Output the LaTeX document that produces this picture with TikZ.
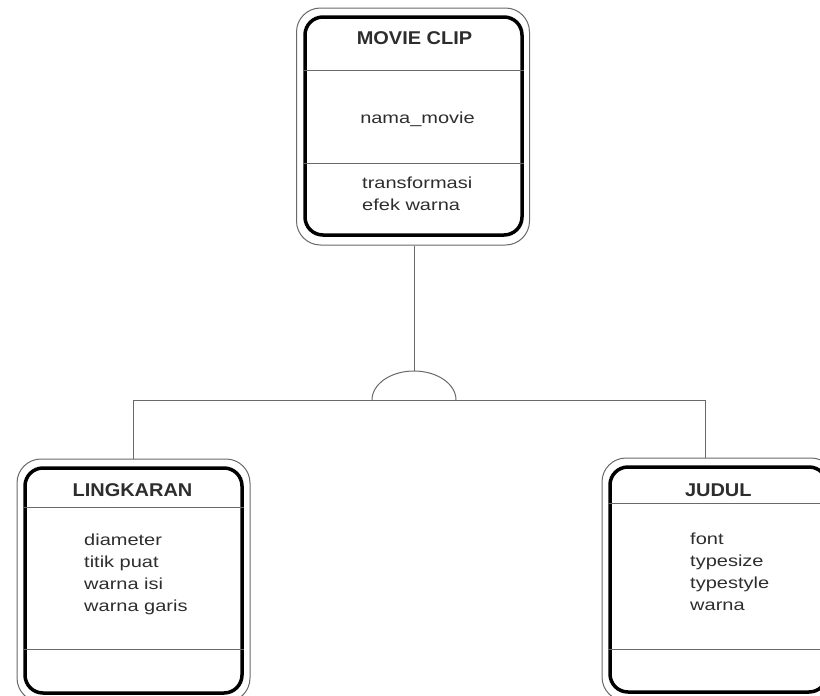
\documentclass[tikz,border=0pt]{standalone}
\usepackage{fontspec}
\setmainfont{Liberation Sans}
\newfontfamily\bodyfont{Liberation Sans}[FakeStretch=1.25]
\newfontfamily\titlefont{Liberation Sans}[FakeStretch=1.08]
\usetikzlibrary{positioning}
\definecolor{linegray}{RGB}{105,105,105}
\definecolor{txtgray}{RGB}{45,45,45}

\begin{document}
\begin{tikzpicture}[x=1pt,y=-1pt,
		outerbox/.style={draw=linegray,line width=1pt,rounded corners=24pt,minimum width=233pt},
		innerbox/.style={draw=black,line width=3.5pt,rounded corners=18pt,minimum width=217pt},
		divider/.style={draw=linegray,line width=0.9pt},
		title/.style={font=\titlefont\fontsize{18.5}{20}\selectfont\bfseries,text=txtgray},
		attr/.style={font=\bodyfont\fontsize{16}{22}\selectfont,text=txtgray,align=left,inner sep=0pt},
		link/.style={draw=linegray,line width=1pt}]
		\useasboundingbox (0,0) rectangle (820,696);
		% class boxes
		\node[outerbox,minimum height=237pt] (mclipout) at (413,126.5) {};
		\node[innerbox,minimum height=218pt] (mclip) at (413.5,126) {};
		\node[outerbox,minimum height=243pt] (lingout) at (133.5,580.5) {};
		\node[innerbox,minimum height=225pt] (ling) at (133.5,580.5) {};
		\node[outerbox,minimum height=243pt] (judout) at (718.5,579.5) {};
		\node[innerbox,minimum height=225pt] (jud) at (718.5,579.5) {};
		% compartments
		\draw[divider] (mclip.west |- 0,70) -- (mclip.east |- 0,70);
		\draw[divider] (mclip.west |- 0,163) -- (mclip.east |- 0,163);
		\draw[divider] (ling.west |- 0,507) -- (ling.east |- 0,507);
		\draw[divider] (ling.west |- 0,649) -- (ling.east |- 0,649);
		\draw[divider] (jud.west |- 0,503) -- (jud.east |- 0,503);
		\draw[divider] (jud.west |- 0,649) -- (jud.east |- 0,649);
		% texts
		\node[title] (mcliptitle) at (414.5,37.7) {MOVIE CLIP};
		\node[attr,anchor=base] (mclipattr) at (417.5,123) {nama\_movie};
		\node[attr,anchor=north west] (mclipop) at (362,176.5) {transformasi\\efek warna};
		\node[title] (lingtitle) at (132.5,490) {LINGKARAN};
		\node[attr,anchor=north west] (lingattr) at (84,534) {diameter\\titik puat\\warna isi\\warna garis};
		\node[title] (judtitle) at (718.3,490) {JUDUL};
		\node[attr,anchor=north west] (judattr) at (690,532.5) {font\\typesize\\typestyle\\warna};
		% generalisation
		\coordinate (gen) at (414,400);
		\coordinate (gentop) at (414,371);
		\coordinate (judtop) at (705,458);
		\draw[link] (mclipout.south -| gentop) -- (gentop);
		\draw[link] ([xshift=-42pt]gen) arc[start angle=180,end angle=360,x radius=42,y radius=29];
		\draw[link] (lingout.north |- gen) -- (judtop |- gen);
		\draw[link] (lingout.north) -- (lingout.north |- gen);
		\draw[link] (judtop) -- (judtop |- gen);
\end{tikzpicture}
\end{document}
